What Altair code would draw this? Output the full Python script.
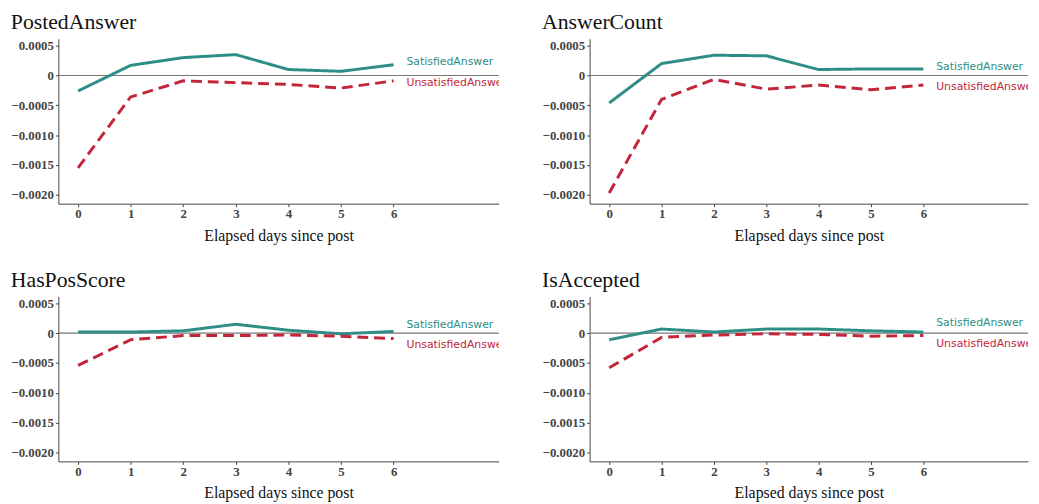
import altair as alt
import pandas as pd

days = [0, 1, 2, 3, 4, 5, 6]
panels = ["PostedAnswer", "AnswerCount", "HasPosScore", "IsAccepted"]
series = ["SatisfiedAnswer", "UnsatisfiedAnswer"]

posted_sat = [-0.00026, 0.00017, 0.00030, 0.00035, 0.00010, 0.00007, 0.00018]
posted_uns = [-0.00155, -0.00036, -0.00009, -0.00012, -0.00015, -0.00021, -0.00009]
count_sat = [-0.00046, 0.00020, 0.00034, 0.00033, 0.00010, 0.00011, 0.00011]
count_uns = [-0.00197, -0.00040, -0.000065, -0.00023, -0.00016, -0.00024, -0.00016]
pos_sat = [0.00002, 0.00002, 0.00004, 0.00015, 0.00005, -0.00001, 0.00003]
pos_uns = [-0.00054, -0.00011, -0.00004, -0.00004, -0.00003, -0.00005, -0.00009]
acc_sat = [-0.00011, 0.00007, 0.00002, 0.00007, 0.00007, 0.00004, 0.00002]
acc_uns = [-0.00058, -0.00007, -0.00003, -0.00001, -0.00002, -0.00005, -0.00004]

values = {
    "PostedAnswer": (posted_sat, posted_uns),
    "AnswerCount": (count_sat, count_uns),
    "HasPosScore": (pos_sat, pos_uns),
    "IsAccepted": (acc_sat, acc_uns),
}

y_ticks = [-0.002, -0.0015, -0.001, -0.0005, 0, 0.0005]
colors = ["#2e8e85", "#c3253a"]
SERIF = "Liberation Serif"
LABEL_GAP = 0.00035


def panel(name, width):
    sat, uns = values[name]
    rows = []
    for s, vals in zip(series, (sat, uns)):
        for d, v in zip(days, vals):
            rows.append({"day": d, "value": v, "series": s})
    df = pd.DataFrame(rows)

    # label positions: line end values pushed apart to avoid overlap
    es, eu = sat[-1], uns[-1]
    if es - eu < LABEL_GAP:
        mid = (es + eu) / 2
        es, eu = mid + LABEL_GAP / 2, mid - LABEL_GAP / 2
    lab = pd.DataFrame({"day": [days[-1], days[-1]], "value": [es, eu], "series": series})

    x = alt.X("day:Q", scale=alt.Scale(domain=[-0.375, 8], nice=False, zero=False),
              axis=alt.Axis(values=days, tickCount=len(days), format="d", title="Elapsed days since post",
                            titleFont=SERIF, titleFontSize=16, titleFontWeight="normal",
                            titleColor="#111", titlePadding=7,
                            labelFont=SERIF, labelFontSize=13, labelFontWeight="bold",
                            labelColor="#444", tickSize=3, tickColor="#444",
                            domainColor="#444", grid=False, labelPadding=1,
                            labelOverlap=False))
    y = alt.Y("value:Q", scale=alt.Scale(domain=[-0.00215, 0.000616], nice=False, zero=False),
              axis=alt.Axis(values=y_ticks, tickCount=len(y_ticks), title=None,
                            labelExpr="datum.value == 0 ? '0' : format(datum.value, '.4f')",
                            labelFont=SERIF, labelFontSize=13, labelFontWeight="bold",
                            labelColor="#444", tickSize=3, tickColor="#444",
                            domainColor="#444", grid=False, labelPadding=2,
                            labelOverlap=False))
    color = alt.Color("series:N", scale=alt.Scale(domain=series, range=colors), legend=None)

    zero = alt.Chart(pd.DataFrame({"z": [0]})).mark_rule(color="#777", strokeWidth=1.2).encode(y="z:Q")
    lines = alt.Chart(df).mark_line(strokeWidth=3).encode(
        x=x, y=y, color=color,
        strokeDash=alt.StrokeDash("series:N", scale=alt.Scale(domain=series, range=[[1, 0], [11, 6]]), legend=None),
    )
    labels = alt.Chart(lab).mark_text(align="left", dx=13, font="DejaVu Sans", fontSize=11, clip=True).encode(
        x="day:Q", y="value:Q", text="series:N", color=color)

    return alt.layer(zero, lines, labels).properties(
        width=width, height=167,
        title=alt.TitleParams(name, font=SERIF, fontSize=22, fontWeight="normal", color="#111",
                              anchor="start", offset=5),
    )


top = alt.hconcat(panel("PostedAnswer", 446), panel("AnswerCount", 444), spacing=42)
bottom = alt.hconcat(panel("HasPosScore", 446), panel("IsAccepted", 444), spacing=42)
chart = alt.vconcat(top, bottom, spacing=26).configure_view(stroke=None).properties(
    padding={"left": 2, "top": 0, "right": 2, "bottom": 0}
)

chart.save("out.html", embed_options={"renderer": "svg", "actions": False})
